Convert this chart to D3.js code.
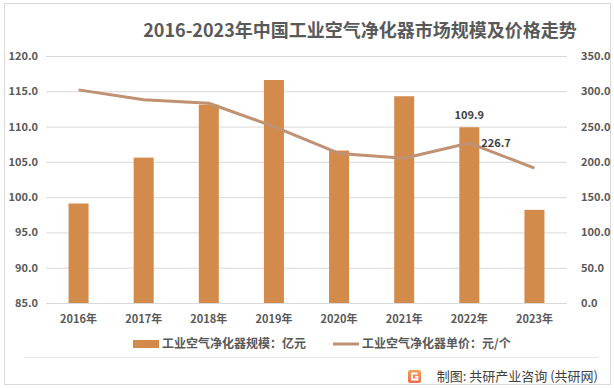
<!DOCTYPE html>
<html>
<head>
<meta charset="utf-8">
<script src="https://cdn.jsdelivr.net/npm/d3@7"></script>
<style>
  body { margin: 0; background: #fff; }
  text { font-family: "Noto Sans CJK SC", "Noto Sans", sans-serif; }
</style>
</head>
<body>
<script>
const years = ["2016年", "2017年", "2018年", "2019年", "2020年", "2021年", "2022年", "2023年"];
const scale = [99.1, 105.6, 113.1, 116.6, 106.6, 114.3, 109.9, 98.2];
const price = [302, 288, 283, 250, 212, 205, 226.7, 191];
const leftTicks = [85, 90, 95, 100, 105, 110, 115, 120];
const rightTicks = [0, 50, 100, 150, 200, 250, 300, 350];

const w = 614, h = 388;
const padL = 46, padR = 567, padT = 56, padB = 303;
const barColor = "#D38B4B", lineColor = "#C09172", txt = "#595959";

const svg = d3.select("body").append("svg")
  .attr("width", w)
  .attr("height", h);

// outer frame
svg.append("rect")
  .attr("x", 4.5).attr("y", 3.5)
  .attr("width", 606).attr("height", 381)
  .attr("fill", "#fff")
  .attr("stroke", "#d9d9d9");

svg.append("text")
  .text("2016-2023年中国工业空气净化器市场规模及价格走势")
  .attr("x", 360).attr("y", 37)
  .attr("text-anchor", "middle")
  .attr("font-size", "18px")
  .attr("font-weight", "bold")
  .attr("fill", txt);

const x = d3.scaleBand().domain(years).range([padL, padR]);
const yL = d3.scaleLinear().domain([85, 120]).range([padB, padT]);
const yR = d3.scaleLinear().domain([0, 350]).range([padB, padT]);

// gridlines
svg.append("g")
  .selectAll("line")
  .data(leftTicks)
  .enter()
  .append("line")
  .attr("x1", padL).attr("x2", padR)
  .attr("y1", d => yL(d) + 0.5).attr("y2", d => yL(d) + 0.5)
  .attr("stroke", "#d9d9d9");

const yAxisL = d3.axisLeft(yL).tickValues(leftTicks).tickFormat(d3.format(".1f")).tickSize(0).tickPadding(8);
const yAxisR = d3.axisRight(yR).tickValues(rightTicks).tickFormat(d3.format(".1f")).tickSize(0).tickPadding(14);
const xAxis = d3.axisBottom(x).tickSize(0).tickPadding(12);

const gl = svg.append("g").attr("transform", "translate(" + padL + ",0)").call(yAxisL);
const gr = svg.append("g").attr("transform", "translate(" + padR + ",0)").call(yAxisR);
const gx = svg.append("g").attr("transform", "translate(0," + padB + ")").call(xAxis);
[gl, gr, gx].forEach(g => {
  g.select(".domain").remove();
  g.selectAll("text")
    .attr("fill", txt)
    .attr("font-size", "11px")
    .attr("font-weight", "bold")
    .style("font-family", "'Noto Sans CJK SC', sans-serif");
});

// bars
const bw = 20;
svg.selectAll("rect.bar")
  .data(scale)
  .enter()
  .append("rect")
  .attr("class", "bar")
  .attr("x", (d, i) => x(years[i]) + x.bandwidth() / 2 - bw / 2)
  .attr("y", d => yL(d))
  .attr("width", bw)
  .attr("height", d => padB - yL(d))
  .attr("fill", barColor);

// price line
const line = d3.line()
  .x((d, i) => x(years[i]) + x.bandwidth() / 2)
  .y(d => yR(d));
svg.append("path")
  .datum(price)
  .attr("d", line)
  .attr("fill", "none")
  .attr("stroke", lineColor)
  .attr("stroke-width", 3)
  .attr("stroke-linejoin", "round");

// data labels
svg.append("text")
  .text(d3.format(".1f")(scale[6]))
  .attr("x", x(years[6]) + x.bandwidth() / 2)
  .attr("y", yL(scale[6]) - 8)
  .attr("text-anchor", "middle")
  .attr("font-size", "11px")
  .attr("font-weight", "bold")
  .attr("fill", "#404040");
svg.append("text")
  .text(d3.format(".1f")(price[6]))
  .attr("x", x(years[6]) + x.bandwidth() / 2 + 12)
  .attr("y", yR(price[6]) + 4)
  .attr("font-size", "11px")
  .attr("font-weight", "bold")
  .attr("fill", "#404040");

// legend
const lg = svg.append("g").attr("transform", "translate(0,344)");
lg.append("rect").attr("x", 133).attr("y", -4).attr("width", 26).attr("height", 8).attr("fill", barColor);
lg.append("text").text("工业空气净化器规模：亿元").attr("x", 162).attr("y", 4)
  .attr("font-size", "12px").attr("font-weight", "bold").attr("fill", txt);
lg.append("line").attr("x1", 333).attr("x2", 359).attr("y1", 0).attr("y2", 0)
  .attr("stroke", lineColor).attr("stroke-width", 3);
lg.append("text").text("工业空气净化器单价：元/个").attr("x", 362).attr("y", 4)
  .attr("font-size", "12px").attr("font-weight", "bold").attr("fill", txt);

// separator + source
svg.append("line")
  .attr("x1", 24).attr("x2", 598).attr("y1", 357.5).attr("y2", 357.5)
  .attr("stroke", "#e6e6e6");

const grad = svg.append("defs").append("linearGradient")
  .attr("id", "logo").attr("x1", 0).attr("y1", 0).attr("x2", 0).attr("y2", 1);
grad.append("stop").attr("offset", "0%").attr("stop-color", "#F4A259");
grad.append("stop").attr("offset", "100%").attr("stop-color", "#EE6B4D");
const logo = svg.append("g").attr("transform", "translate(408,370)");
logo.append("rect").attr("width", 13).attr("height", 13).attr("rx", 2).attr("fill", "url(#logo)");
logo.append("path")
  .attr("d", "M9.5,3.5 H4 V9.5 H9.5 V6.8 H7")
  .attr("fill", "none").attr("stroke", "#fff").attr("stroke-width", 1.8);

svg.append("text")
  .text("制图: 共研产业咨询 (共研网)")
  .attr("x", 598).attr("y", 381)
  .attr("text-anchor", "end")
  .attr("font-size", "13px")
  .attr("fill", "#404040");
</script>
</body>
</html>
